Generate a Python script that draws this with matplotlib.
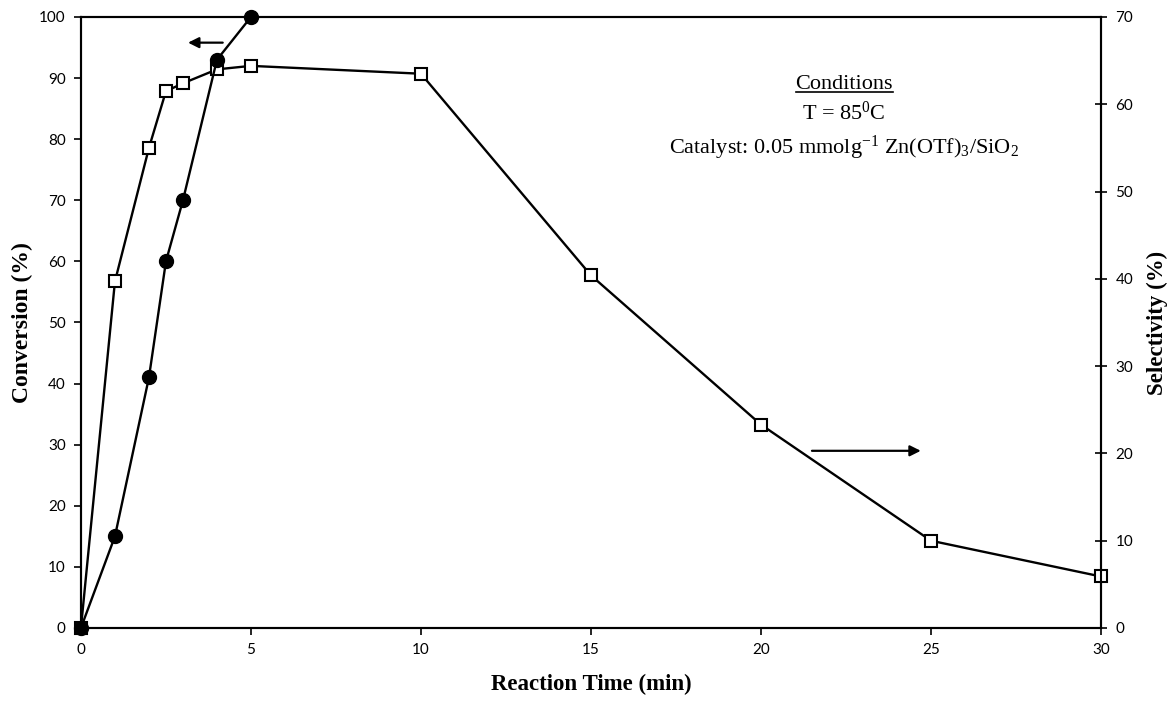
import matplotlib
matplotlib.use('Agg')
import matplotlib.pyplot as plt
from matplotlib.lines import Line2D

plt.rcParams['font.family'] = ['Liberation Serif', 'DejaVu Serif']
plt.rcParams['mathtext.fontset'] = 'custom'
plt.rcParams['mathtext.rm'] = 'Liberation Serif'
plt.rcParams['mathtext.it'] = 'Liberation Serif:italic'
plt.rcParams['mathtext.bf'] = 'Liberation Serif:bold'

# conversion (left axis), filled circles
conv_time = [0, 1, 2, 2.5, 3, 4, 5]
conversion = [0, 15, 41, 60, 70, 93, 100]

# selectivity (right axis), open squares
sel_time = [0, 1, 2, 2.5, 3, 4, 5, 10, 15, 20, 25, 30]
selectivity = [0, 39.7, 55, 61.5, 62.4, 64, 64.4, 63.5, 40.4, 23.3, 10, 5.9]

x_ticks = [0, 5, 10, 15, 20, 25, 30]
conv_ticks = list(range(0, 101, 10))
sel_ticks = list(range(0, 71, 10))

fig = plt.figure(figsize=(11.73, 7.08), dpi=100)
ax = fig.add_axes([0.069, 0.113, 0.8696, 0.863])
ax2 = ax.twinx()

ax2.plot(sel_time, selectivity, color='black', lw=1.7, marker='s', ms=9,
         mfc='white', mec='black', mew=1.5, zorder=3, clip_on=False)
ax.plot(conv_time, conversion, color='black', lw=1.7, marker='o', ms=10,
        zorder=3, clip_on=False)

# left axis above the twin so the circles sit on top
ax.set_zorder(ax2.get_zorder() + 1)
ax.patch.set_visible(False)

ax.set_xlim(0, 30)
ax.set_ylim(0, 100)
ax2.set_ylim(0, 70)
ax.set_xticks(x_ticks)
ax.set_yticks(conv_ticks)
ax2.set_yticks(sel_ticks)

tick_font = {'family': 'Lato', 'size': 11}
ax.set_xticklabels([str(v) for v in x_ticks], fontdict=tick_font)
ax.set_yticklabels([str(v) for v in conv_ticks], fontdict=tick_font)
ax2.set_yticklabels([str(v) for v in sel_ticks], fontdict=tick_font)

ax.tick_params(axis='both', direction='out', length=5, width=1.2, pad=6)
ax2.tick_params(axis='y', direction='inout', length=9, width=1.2, pad=6)
for a in (ax, ax2):
    for s in a.spines.values():
        s.set_linewidth(1.5)

ax.set_xlabel('Reaction Time (min)', fontsize=16.5, fontweight='bold', labelpad=12)
ax.set_ylabel('Conversion (%)', fontsize=17, fontweight='bold', labelpad=4)
ax2.set_ylabel('Selectivity (%)', fontsize=16.5, fontweight='bold', labelpad=10)

# direction arrows: conversion -> left axis, selectivity -> right axis
ax.annotate('', xy=(3.15, 95.8), xytext=(4.17, 95.8),
            arrowprops=dict(arrowstyle='-|>', color='black', lw=1.6,
                            mutation_scale=16, shrinkA=0, shrinkB=0))
ax.annotate('', xy=(24.7, 29.0), xytext=(21.5, 29.0),
            arrowprops=dict(arrowstyle='-|>', color='black', lw=1.6,
                            mutation_scale=16, shrinkA=0, shrinkB=0))

cond = ax.text(22.45, 89.0, 'Conditions', fontsize=16, ha='center', va='center')
ax.text(22.45, 84.2, 'T = 85$^0$C', fontsize=16, ha='center', va='center')
ax.text(22.45, 78.6, 'Catalyst: 0.05 mmolg$^{-1}$ Zn(OTf)$_3$/SiO$_2$',
        fontsize=16, ha='center', va='center')

fig.canvas.draw()
bb = cond.get_window_extent().transformed(fig.transFigure.inverted())
fig.add_artist(Line2D([bb.x0, bb.x1], [bb.y0 + 0.002, bb.y0 + 0.002],
                      transform=fig.transFigure, color='black', lw=1.2))

fig.savefig('out.png', dpi=100)
